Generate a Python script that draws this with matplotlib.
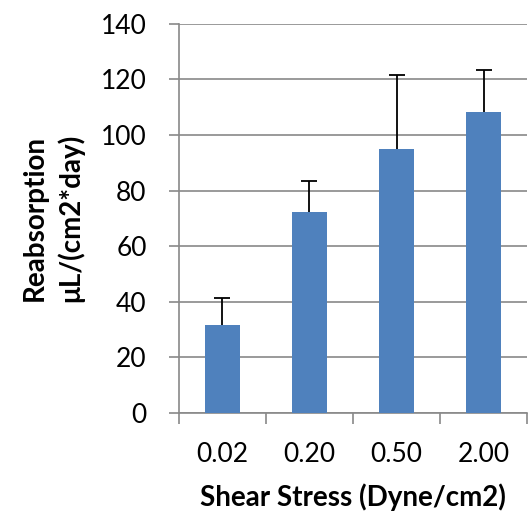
import matplotlib.pyplot as plt
import numpy as np

categories = ['0.02', '0.20', '0.50', '2.00']
reabsorption = [31.6, 72.3, 95.0, 108.3]
error_up = [9.8, 11.1, 26.7, 15.1]
y_ticks = [0, 20, 40, 60, 80, 100, 120, 140]

plt.rcParams['font.family'] = ['Lato', 'DejaVu Sans']
gray = '#898989'

fig = plt.figure(figsize=(5.30, 5.17), dpi=100)
ax = fig.add_axes([0.337, 0.2017, 0.658, 0.752])

x = np.arange(len(categories))
ax.bar(x, reabsorption, width=0.4, color='#4F81BD', zorder=3)
_, caps, _ = ax.errorbar(
    x, reabsorption, yerr=[np.zeros(len(x)), error_up], fmt='none',
    ecolor='black', elinewidth=1.3, capsize=6, capthick=1.3, zorder=4
)
# only the upper half of the error bar is shown
caps[0].set_visible(False)

ax.set_xlim(-0.5, len(categories) - 0.5)
ax.set_ylim(0, 140)
ax.set_yticks(y_ticks)
ax.yaxis.grid(True, color=gray, linewidth=1.2, zorder=0)
ax.set_axisbelow(True)

ax.set_xticks(x)
ax.set_xticklabels(categories, fontsize=19)
ax.set_xticks(np.arange(len(categories) + 1) - 0.5, minor=True)
ax.tick_params(axis='x', which='major', length=0, pad=21)
ax.tick_params(axis='x', which='minor', length=8, width=1.2, color=gray)
ax.tick_params(axis='y', length=7, width=1.2, color=gray, labelsize=19,
               pad=16)

for side in ['top', 'right']:
    ax.spines[side].set_visible(False)
for side in ['left', 'bottom']:
    ax.spines[side].set_color(gray)
    ax.spines[side].set_linewidth(1.2)

ax.set_xlabel('Shear Stress (Dyne/cm2)', fontsize=20, fontweight='bold',
              labelpad=12)
ax.set_ylabel('Reabsorption\nμL/(cm2*day)', fontsize=20, fontweight='bold',
              labelpad=12, linespacing=1.4)

fig.savefig('out.png', dpi=100)
